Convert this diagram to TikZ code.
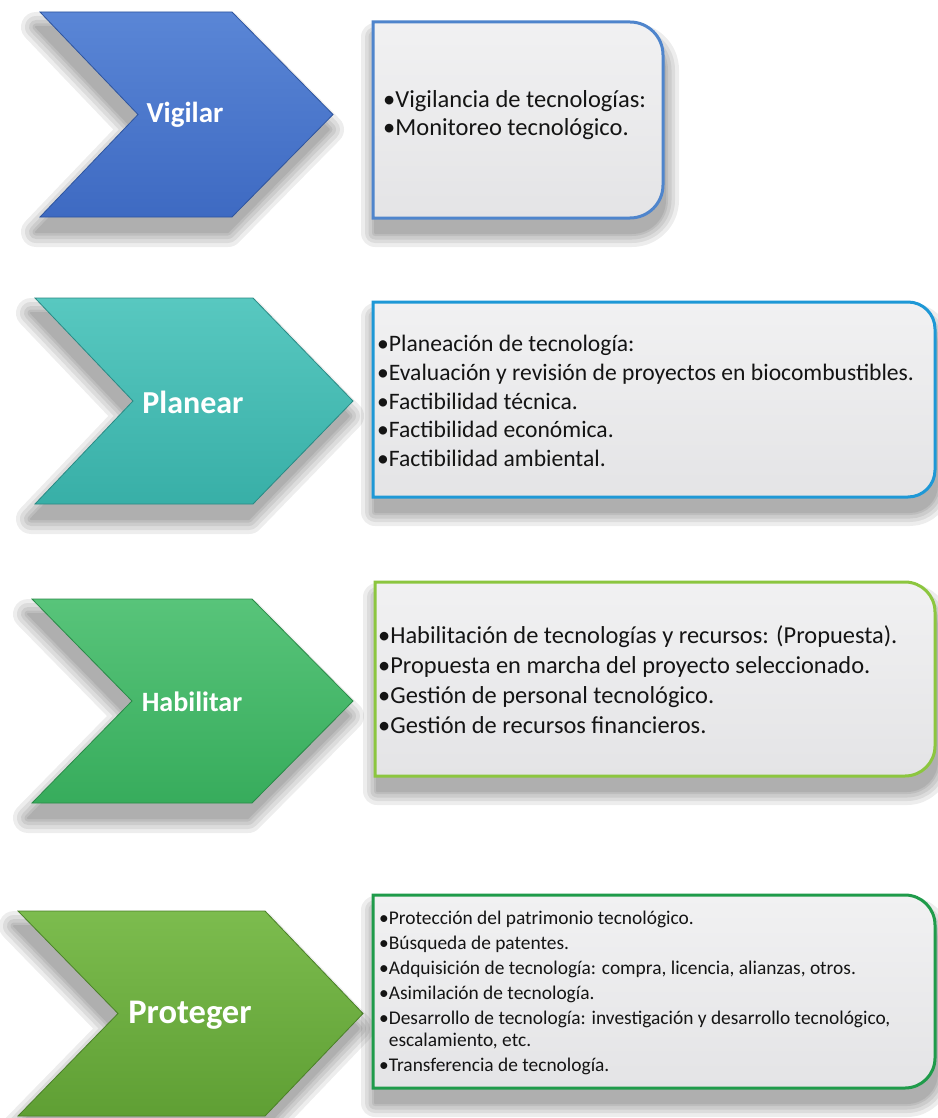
\documentclass[tikz,border=0pt]{standalone}
\usepackage{fontspec}
\setmainfont{Carlito}
\begin{document}
% chevron outline: options, left x, shoulder x, tip x, notch x, top y, bottom y
\newcommand\chevshape[7]{%
  \path[#1] (#2,#6) -- (#3,#6) -- (#4,{(#6+#7)/2}) -- (#3,#7) -- (#2,#7)
    -- (#5,{(#6+#7)/2}) -- cycle;}
% text panel with rounded right corners: options, x1, y1, x2, y2, radius
\newcommand\panelshape[6]{%
  \path[#1] (#2,#3) -- ({#4-#6},#3)
    .. controls ({#4-0.448*#6},#3) and (#4,{#3+0.448*#6}) .. (#4,{#3+#6})
    -- (#4,{#5-#6})
    .. controls (#4,{#5-0.448*#6}) and ({#4-0.448*#6},#5) .. ({#4-#6},#5)
    -- (#2,#5) -- cycle;}
% blurred drop shadow built from stacked translucent layers
\newcommand\chevshadow[6]{%
  \foreach \w in {30,22,14,7,2}{%
    \begin{scope}[transparency group, opacity=0.07]
      \chevshape{fill=black,draw=black,line width=\w pt,line join=round,shift={(-4,15)}}{#1}{#2}{#3}{#4}{#5}{#6}
    \end{scope}}}
\newcommand\panelshadow[5]{%
  \foreach \w in {28,20,13,6,2}{%
    \begin{scope}[transparency group, opacity=0.07]
      \panelshape{fill=black,draw=black,line width=\w pt,line join=round,shift={(2,15)}}{#1}{#2}{#3}{#4}{#5}
    \end{scope}}}
\definecolor{vigA}{HTML}{5A86D6}\definecolor{vigB}{HTML}{3E6AC2}\definecolor{vigE}{HTML}{2F559E}
\definecolor{plaA}{HTML}{58C8C0}\definecolor{plaB}{HTML}{38AFA7}\definecolor{plaE}{HTML}{2A8A84}
\definecolor{habA}{HTML}{58C47A}\definecolor{habB}{HTML}{37AC5C}\definecolor{habE}{HTML}{2A8A48}
\definecolor{proA}{HTML}{7CBC4E}\definecolor{proB}{HTML}{5F9F34}\definecolor{proE}{HTML}{4A8028}
\definecolor{bdVig}{HTML}{4F85CC}\definecolor{bdPla}{HTML}{1E98D6}
\definecolor{bdHab}{HTML}{8CC63F}\definecolor{bdPro}{HTML}{1F9B4A}
\definecolor{panTop}{HTML}{F1F1F2}\definecolor{panBot}{HTML}{E4E4E6}
\definecolor{ink}{HTML}{141414}
\begin{tikzpicture}[x=1pt,y=-1pt,
  label/.style={text=white,font=\bfseries\fontsize{#1}{#1}\selectfont,inner sep=0pt},
  itemtext/.style={text=ink,align=left,anchor=west,inner sep=0pt},
  ]
\useasboundingbox[fill=white] (0,0) rectangle (937,1118);

% ---- Vigilar ----
\chevshadow{40}{232}{333}{138}{12}{217}
\chevshape{top color=vigA,bottom color=vigB,draw=vigE,line width=0.8pt}{40}{232}{333}{138}{12}{217}
\node[label=29] (vig) at (185,115) {Vigilar};
\panelshadow{373}{22}{663}{218}{33}
\panelshape{top color=panTop,bottom color=panBot,draw=bdVig,line width=3pt}{373}{22}{663}{218}{33}
\node[itemtext,font=\fontsize{24.5}{28}\selectfont] (vigtxt) at (383,115)
  {•Vigilancia de tecnologías:\\•Monitoreo tecnológico.};

% ---- Planear ----
\chevshadow{35}{253}{353}{133}{298}{504}
\chevshape{top color=plaA,bottom color=plaB,draw=plaE,line width=0.8pt}{35}{253}{353}{133}{298}{504}
\node[label=32] (pla) at (193,402) {Planear};
\panelshadow{373}{302}{935}{497}{27}
\panelshape{top color=panTop,bottom color=panBot,draw=bdPla,line width=3pt}{373}{302}{935}{497}{27}
\node[itemtext,font=\fontsize{23.6}{28.8}\selectfont] (platxt) at (377,401)
  {•Planeación de tecnología:\\•Evaluación y revisión de proyectos en biocombustibles.\\
   •Factibilidad técnica.\\•Factibilidad económica.\\•Factibilidad ambiental.};

% ---- Habilitar ----
\chevshadow{32}{252}{353}{132}{599}{803}
\chevshape{top color=habA,bottom color=habB,draw=habE,line width=0.8pt}{32}{252}{353}{132}{599}{803}
\node[label=28] (hab) at (192,702) {Habilitar};
\panelshadow{375}{582}{935}{776}{30}
\panelshape{top color=panTop,bottom color=panBot,draw=bdHab,line width=3pt}{375}{582}{935}{776}{30}
\node[itemtext,font=\fontsize{24.4}{30}\selectfont] (habtxt) at (378,680)
  {•Habilitación de tecnologías y recursos: (Propuesta).\\•Propuesta en marcha del proyecto seleccionado.\\
   •Gestión de personal tecnológico.\\•Gestión de recursos financieros.};

% ---- Proteger ----
\chevshadow{18}{265}{363}{118}{911}{1116}
\chevshape{top color=proA,bottom color=proB,draw=proE,line width=0.8pt}{18}{265}{363}{118}{911}{1116}
\node[label=34.5] (pro) at (190,1015) {Proteger};
\panelshadow{373}{895}{935}{1088}{30}
\panelshape{top color=panTop,bottom color=panBot,draw=bdPro,line width=3pt}{373}{895}{935}{1088}{30}
\node[itemtext,font=\fontsize{19.4}{25}\selectfont] (protxt) at (379,993)
  {•Protección del patrimonio tecnológico.\\•Búsqueda de patentes.\\
   •Adquisición de tecnología: compra, licencia, alianzas, otros.\\•Asimilación de tecnología.\\
   •Desarrollo de tecnología: investigación y desarrollo tecnológico,\\[-3pt]
   \phantom{•}escalamiento, etc.\\•Transferencia de tecnología.};
\end{tikzpicture}
\end{document}
